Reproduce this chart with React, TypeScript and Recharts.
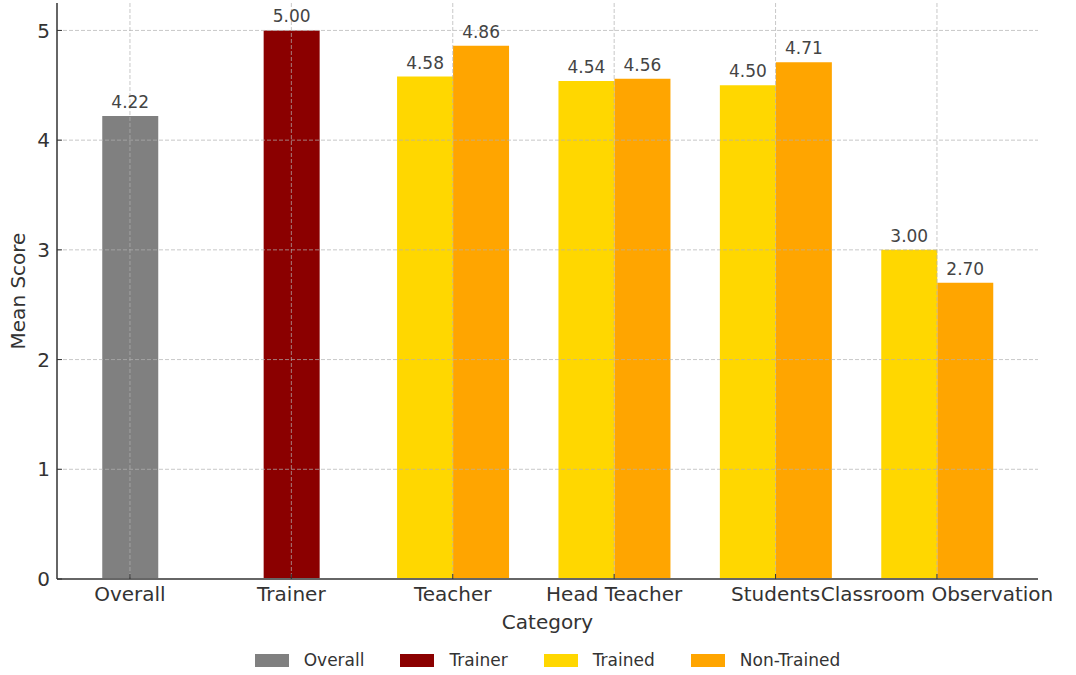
import { BarChart, Bar, XAxis, YAxis, CartesianGrid, LabelList, Legend, Cell } from "recharts";

const categories = ["Overall", "Trainer", "Teacher", "Head Teacher", "Students", "Classroom Observation"];
const overallScores = [4.22, null, null, null, null, null];
const trainerScores = [null, 5.0, null, null, null, null];
const trainedScores = [null, null, 4.58, 4.54, 4.5, 3.0];
const nonTrainedScores = [null, null, 4.86, 4.56, 4.71, 2.7];
const yTicks = [0, 1, 2, 3, 4, 5];
const xTicks = categories.map((_, i) => i);

const legendNames = ["Overall", "Trainer", "Trained", "Non-Trained"];
const legendColors = ["#808080", "#8b0000", "#ffd700", "#ffa500"];

// Overall and Trainer share one centred slot; Trained / Non-Trained sit side by side
const data = categories.map((name, i) => ({
  idx: i,
  name,
  single: overallScores[i] ?? trainerScores[i],
  trained: trainedScores[i],
  nonTrained: nonTrainedScores[i],
}));

const fmt = (v: any) => (v == null ? "" : Number(v).toFixed(2));
const xDomain = [-0.452, 5.626];

const renderLegend = () => (
  <div
    style={{
      display: "flex",
      justifyContent: "center",
      alignItems: "center",
      fontSize: 17,
      lineHeight: "20px",
      color: "#333",
    }}
  >
    {legendNames.map((n, i) => (
      <div key={n} style={{ display: "flex", alignItems: "center", marginRight: i < legendNames.length - 1 ? 36 : 0 }}>
        <span style={{ display: "inline-block", width: 34, height: 13, background: legendColors[i], marginRight: 15 }} />
        <span>{n}</span>
      </div>
    ))}
  </div>
);

export default function App() {
  return (
    <div style={{ width: 1076, height: 675, fontFamily: "'DejaVu Sans', sans-serif", background: "#fff" }}>
      <style>{"body{margin:0}"}</style>
      <BarChart width={1076} height={675} data={data} barGap={0} margin={{ top: 3, right: 38, left: 0, bottom: 0 }}>
        <XAxis
          xAxisId="single"
          type="number"
          dataKey="idx"
          domain={xDomain}
          ticks={xTicks}
          allowDataOverflow
          interval={0}
          tickFormatter={(i: number) => categories[i]}
          height={96}
          tickSize={-5}
          tickMargin={13}
          tick={{ fill: "#333", fontSize: 20 }}
          tickLine={{ stroke: "#333" }}
          axisLine={{ stroke: "#666", strokeWidth: 2 }}
          label={{ value: "Category", position: "insideTop", offset: 36, fill: "#333", fontSize: 20 }}
        />
        <XAxis
          xAxisId="pair"
          orientation="top"
          type="number"
          dataKey="idx"
          domain={xDomain}
          ticks={xTicks}
          allowDataOverflow
          hide
        />
        <YAxis
          domain={[0, 5.25]}
          ticks={yTicks}
          allowDataOverflow
          width={57}
          tickSize={-5}
          tickMargin={12}
          tick={{ fill: "#333", fontSize: 20 }}
          tickLine={{ stroke: "#333" }}
          axisLine={{ stroke: "#333", strokeWidth: 1.5 }}
          label={{
            value: "Mean Score",
            angle: -90,
            position: "insideLeft",
            offset: 18,
            fill: "#333",
            fontSize: 20,
            style: { textAnchor: "middle" },
          }}
        />
        <Bar xAxisId="single" dataKey="single" barSize={56} isAnimationActive={false}>
          {data.map((d, i) => (
            <Cell key={i} fill={overallScores[i] != null ? legendColors[0] : legendColors[1]} />
          ))}
          <LabelList dataKey="single" position="top" offset={8} formatter={fmt} fill="#444" fontSize={17} />
        </Bar>
        <Bar xAxisId="pair" dataKey="trained" name="Trained" fill={legendColors[2]} barSize={56} isAnimationActive={false}>
          <LabelList dataKey="trained" position="top" offset={8} formatter={fmt} fill="#444" fontSize={17} />
        </Bar>
        <Bar xAxisId="pair" dataKey="nonTrained" name="Non-Trained" fill={legendColors[3]} barSize={56} isAnimationActive={false}>
          <LabelList dataKey="nonTrained" position="top" offset={8} formatter={fmt} fill="#444" fontSize={17} />
        </Bar>
        <CartesianGrid
          xAxisId="single"
          syncWithTicks
          strokeDasharray="4 2"
          stroke="#b0b0b0"
          strokeOpacity={0.7}
          zIndex={400}
        />
        <Legend
          verticalAlign="middle"
          align="center"
          layout="horizontal"
          wrapperStyle={{ top: 650, left: 57, width: 981, height: 20 }}
          content={renderLegend}
        />
      </BarChart>
    </div>
  );
}
